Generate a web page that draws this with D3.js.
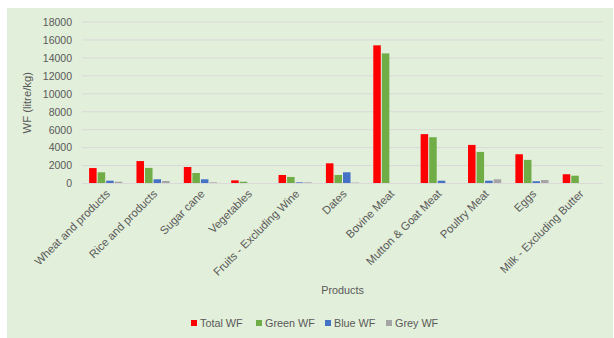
<!DOCTYPE html>
<html><head><meta charset="utf-8">
<script src="https://cdn.jsdelivr.net/npm/d3@7"></script>
<style>
html,body{margin:0;padding:0;background:#fff;}
svg{display:block;font-family:"Liberation Sans","Open Sans",sans-serif;}
</style></head>
<body>
<svg id="chart" width="614" height="338"></svg>
<script>
const categories = ["Wheat and products","Rice and products","Sugar cane","Vegetables","Fruits - Excluding Wine","Dates","Bovine Meat","Mutton & Goat Meat","Poultry Meat","Eggs","Milk - Excluding Butter"];
const seriesNames = ["Total WF","Green WF","Blue WF","Grey WF"];
const seriesColors = ["#ff0000","#70ad47","#4472c4","#a5a5a5"];
const totalWF = [1720,2500,1840,350,950,2250,15400,5500,4300,3260,1030];
const greenWF = [1250,1740,1170,200,730,950,14500,5160,3520,2630,870];
const blueWF  = [310,470,470,0,130,1250,0,310,310,250,0];
const greyWF  = [200,280,130,0,130,100,0,0,470,390,0];
const yTicks = [0,2000,4000,6000,8000,10000,12000,14000,16000,18000];

const series = [totalWF, greenWF, blueWF, greyWF];
const svg = d3.select("#chart");
svg.append("rect").attr("x",7).attr("y",8).attr("width",606).attr("height",330).attr("fill","#e2efda");

const m = {left:82, right:603, top:22, bottom:183.5};
const x = d3.scaleBand().domain(categories).range([m.left,m.right]).paddingInner(0.3).paddingOuter(0.15);
const x1 = d3.scaleBand().domain(d3.range(4)).range([0,x.bandwidth()]).paddingInner(0.12);
const y = d3.scaleLinear().domain([0,18000]).range([m.bottom,m.top]);

// gridlines
svg.append("g").selectAll("line").data(yTicks.slice(1)).join("line")
  .attr("x1",m.left).attr("x2",m.right).attr("y1",d=>y(d)).attr("y2",d=>y(d))
  .attr("stroke","#d9d9d9").attr("stroke-width",1);

// y axis labels
const yAxis = d3.axisLeft(y).tickValues(yTicks).tickSize(0).tickPadding(10).tickFormat(d3.format("d"));
const yg = svg.append("g").attr("transform",`translate(${m.left},0)`).call(yAxis);
yg.select(".domain").remove();
yg.selectAll("text").attr("fill","#595959").style("font-size","10.5px");

// bars
const groups = svg.append("g").selectAll("g").data(categories).join("g")
  .attr("transform",d=>`translate(${x(d)},0)`);
groups.selectAll("rect").data((d,i)=>series.map((s,k)=>({k, v:s[i]}))).join("rect")
  .attr("x",d=>x1(d.k)).attr("width",x1.bandwidth())
  .attr("y",d=>y(d.v)).attr("height",d=>y(0)-y(d.v))
  .attr("fill",d=>seriesColors[d.k]);

// x axis baseline
svg.append("line").attr("x1",m.left).attr("x2",m.right).attr("y1",y(0)).attr("y2",y(0))
  .attr("stroke","#d9d9d9").attr("stroke-width",1);

// x axis labels
const xAxis = d3.axisBottom(x).tickSize(0).tickPadding(0);
const xg = svg.append("g").attr("transform",`translate(0,${m.bottom})`).call(xAxis);
xg.select(".domain").remove();
xg.selectAll("text")
  .attr("fill","#595959").style("font-size","11.3px")
  .attr("text-anchor","end").attr("dy",null).attr("y",0)
  .attr("transform","translate(5,11) rotate(-45)");

// axis titles
svg.append("text").attr("transform",`translate(31,${(m.top+m.bottom)/2}) rotate(-90)`)
  .attr("text-anchor","middle").attr("fill","#595959").style("font-size","11.3px").text("WF (litre/kg)");
svg.append("text").attr("x",(m.left+m.right)/2).attr("y",294)
  .attr("text-anchor","middle").attr("fill","#595959").style("font-size","10.8px").text("Products");

// legend
const legX = [191,256,325,386];
const leg = svg.append("g").selectAll("g").data(seriesNames).join("g")
  .attr("transform",(d,i)=>`translate(${legX[i]},320)`);
leg.append("rect").attr("width",6).attr("height",6).attr("fill",(d,i)=>seriesColors[i]);
leg.append("text").attr("x",9).attr("y",6.5).attr("fill","#595959").style("font-size","10.8px").text(d=>d);
</script>
</body></html>
